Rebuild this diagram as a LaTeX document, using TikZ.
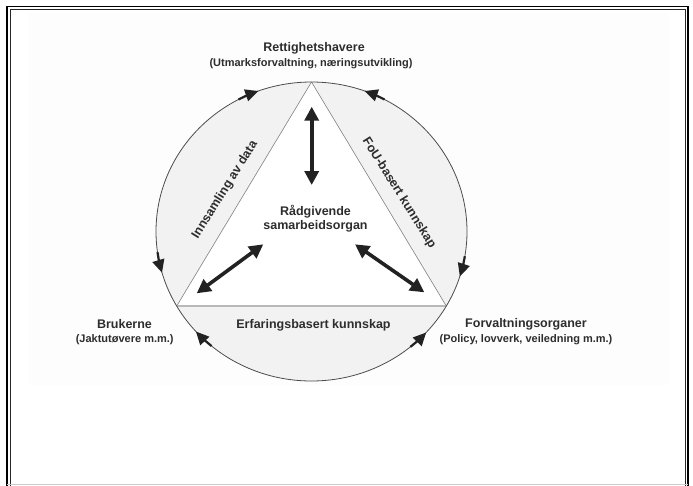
\documentclass[tikz,border=0pt]{standalone}
\usepackage{fontspec}
\setmainfont{Liberation Sans}
\usetikzlibrary{arrows.meta,calc}
\definecolor{segcol}{RGB}{242,242,242}
\definecolor{txt}{RGB}{45,45,45}
\definecolor{arr}{RGB}{34,34,34}
\definecolor{bgcol}{RGB}{253,253,253}
\tikzset{
  lbl/.style={font=\bfseries\fontsize{12.5}{15}\selectfont, text=txt, inner sep=0pt, anchor=base},
  sublbl/.style={font=\bfseries\fontsize{11}{13}\selectfont, text=txt, inner sep=0pt, anchor=base},
  sidelbl/.style={font=\bfseries\fontsize{12.5}{15}\selectfont, text=txt, inner sep=0pt},
  circarrow/.style={draw=arr, line width=2.2pt, -{Triangle[length=13pt,width=12pt]}},
  dblarrow/.style={draw=arr, line width=3.6pt, {Triangle[length=14pt,width=14pt]}-{Triangle[length=14pt,width=14pt]}},
}
\begin{document}
\begin{tikzpicture}[x=1pt,y=-1pt]
\useasboundingbox (0,0) rectangle (693,485);
% faint background
\fill[bgcol] (28,13) rectangle (669,385);
% frame
\draw[black, line width=1.8pt] (6.8,6.5) rectangle (688.3,500);
\draw[black!85, line width=1pt] (10.5,9.5) rectangle (685.3,500);
\draw[black!20, line width=1pt] (7,484.3) -- (688,484.3);
% geometry
\coordinate (E) at (311.5,231.5);
\coordinate (A) at (311.5,82);
\coordinate (B) at (176.7,306);
\coordinate (C) at (446.3,306);
% shaded segments
\fill[segcol] (E) ellipse [x radius=155.5pt, y radius=149.5pt];
\fill[white] (A) -- (B) -- (C) -- cycle;
\draw[black!50, line width=0.6pt] (A) -- (B);
\draw[black!50, line width=0.6pt] (A) -- (C);
\draw[black!28, line width=1.2pt] (B) -- (C);
\draw[black!70, line width=0.8pt] (E) ellipse [x radius=155.5pt, y radius=149.5pt];
% arrows on the circle
\draw[circarrow] ($(E)+(118:155.5pt and 149.5pt)$) arc[start angle=118, end angle=110, x radius=155.5pt, y radius=149.5pt];
\draw[circarrow] ($(E)+(62:155.5pt and 149.5pt)$) arc[start angle=62, end angle=70, x radius=155.5pt, y radius=149.5pt];
\draw[circarrow] ($(E)+(188:155.5pt and 149.5pt)$) arc[start angle=188, end angle=196, x radius=155.5pt, y radius=149.5pt];
\draw[circarrow] ($(E)+(230:155.5pt and 149.5pt)$) arc[start angle=230, end angle=222, x radius=155.5pt, y radius=149.5pt];
\draw[circarrow] ($(E)+(-9.5:155.5pt and 149.5pt)$) arc[start angle=-9.5, end angle=-17.5, x radius=155.5pt, y radius=149.5pt];
\draw[circarrow] ($(E)+(-50.5:155.5pt and 149.5pt)$) arc[start angle=-50.5, end angle=-42.5, x radius=155.5pt, y radius=149.5pt];
% inner double arrows
\coordinate (v1) at (311.7,106.7);
\coordinate (v2) at (311.7,185);
\coordinate (l1) at (196.7,293.3);
\coordinate (l2) at (263.3,244.3);
\coordinate (r1) at (355,244.3);
\coordinate (r2) at (424.3,292.3);
\draw[dblarrow] (v1) -- (v2);
\draw[dblarrow] (l1) -- (l2);
\draw[dblarrow] (r1) -- (r2);
% labels
\node[lbl] (top) at (314,51) {Rettighetshavere};
\node[sublbl] (topsub) at (311,66) {(Utmarksforvaltning, næringsutvikling)};
\node[lbl] (c1) at (315.5,215) {Rådgivende};
\node[lbl] (c2) at (315.5,229.5) {samarbeidsorgan};
\node[lbl] (bl) at (124.5,328) {Brukerne};
\node[sublbl] (blsub) at (124.7,342.5) {(Jaktutøvere m.m.)};
\node[lbl] (br) at (526,327) {Forvaltningsorganer};
\node[sublbl] (brsub) at (526,342.5) {(Policy, lovverk, veiledning m.m.)};
\node[lbl] (bottom) at (313.5,328) {Erfaringsbasert kunnskap};
\node[sidelbl, rotate=58] (left) at (225,190) {Innsamling av data};
\node[sidelbl, rotate=-58] (right) at (399,193) {FoU-basert kunnskap};
\end{tikzpicture}
\end{document}
